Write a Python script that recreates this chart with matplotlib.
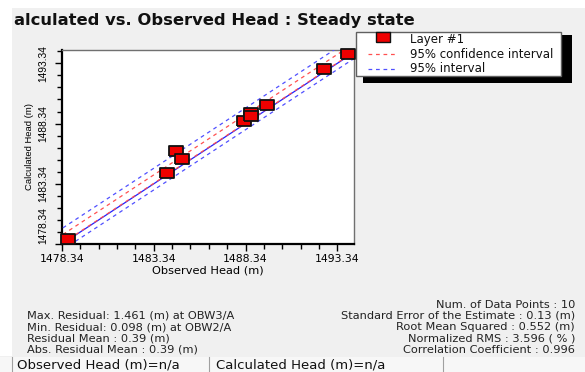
import matplotlib.pyplot as plt
import numpy as np
from matplotlib.lines import Line2D
from matplotlib.patches import Rectangle

plt.rcParams['font.family'] = ['DejaVu Sans']
NARROW = ['Liberation Sans']

# observed vs calculated heads (m)
observed = [1478.69, 1484.08, 1484.55, 1484.90, 1488.27, 1488.62, 1488.64, 1489.50, 1492.63, 1493.93]
calculated = [1478.76, 1484.20, 1486.03, 1485.42, 1488.57, 1489.23, 1489.00, 1489.92, 1492.86, 1494.13]

tick_vals = [1478.34, 1483.34, 1488.34, 1493.34]
x_lim = (1478.34, 1494.25)
y_lim = (1478.34, 1494.45)

# regression offset and band half-widths (m)
reg_offset = 0.39
conf_half = 0.35
pred_half = 0.9

legend_labels = ["Layer #1", "95% confidence interval", "95% interval"]
stats_left = ["Max. Residual: 1.461 (m) at OBW3/A",
              "Min. Residual: 0.098 (m) at OBW2/A",
              "Residual Mean : 0.39 (m)",
              "Abs. Residual Mean : 0.39 (m)"]
stats_right = ["Num. of Data Points : 10",
               "Standard Error of the Estimate : 0.13 (m)",
               "Root Mean Squared : 0.552 (m)",
               "Normalized RMS : 3.596 ( % )",
               "Correlation Coefficient : 0.996"]

W, H = 585, 372
fig = plt.figure(figsize=(W / 100, H / 100), dpi=100, facecolor='#f0f0f0')


def fx(px):
    return px / W


def fy(py):
    return 1 - py / H


def frect(x0, y0, x1, y1, **kw):
    fig.patches.append(Rectangle((fx(x0), fy(y1)), fx(x1) - fx(x0), fy(y0) - fy(y1),
                                 transform=fig.transFigure, **kw))


def fline(xs, ys, **kw):
    fig.lines.append(Line2D([fx(v) for v in xs], [fy(v) for v in ys],
                            transform=fig.transFigure, **kw))


# window chrome
frect(0, 0, W, 8, facecolor='white', edgecolor='none')
frect(0, 8, 12, 356, facecolor='white', edgecolor='none')
frect(0, 357, W, H, facecolor='#f7f7f7', edgecolor='none')
for sx in [12, 209, 443]:
    fline([sx, sx], [357, H], color='#a0a0a0', lw=0.8)

ax = fig.add_axes([fx(62), fy(244), fx(354) - fx(62), fy(50) - fy(244)])
ax.set_facecolor('white')

line_x = np.array([x_lim[0] - 2, x_lim[1] + 2])
ax.plot(line_x, line_x, color='#2020ff', lw=0.9, zorder=2)
ax.plot(line_x, line_x + reg_offset - conf_half, color='#ff5050', lw=0.9,
        dashes=(3, 3), zorder=3)
ax.plot(line_x, line_x + reg_offset + conf_half, color='#ff5050', lw=0.9,
        dashes=(3, 3), zorder=3)
ax.plot(line_x, line_x + reg_offset + pred_half, color='#5050ff', lw=0.9,
        dashes=(3, 3), zorder=3)
ax.plot(line_x, line_x + reg_offset - pred_half, color='#5050ff', lw=0.9,
        dashes=(3, 3), zorder=3)

rect_marker = [(-1.45, -1), (1.45, -1), (1.45, 1), (-1.45, 1), (-1.45, -1)]
ax.plot(observed, calculated, linestyle='none', marker=rect_marker, markersize=9.6,
        markerfacecolor='#ee0000', markeredgecolor='#111111', markeredgewidth=1.3,
        zorder=5, clip_on=False)

ax.set_xlim(*x_lim)
ax.set_ylim(*y_lim)
ax.set_xticks(tick_vals)
ax.set_yticks(tick_vals)
ax.set_xticklabels([f"{v:.2f}" for v in tick_vals], fontsize=7.8)
ax.set_yticklabels([f"{v:.2f}" for v in tick_vals], fontsize=7.4, rotation=90, va='center',
                   family=NARROW)
ax.get_yticklabels()[0].set_va('bottom')
ax.set_xticks(np.arange(1479.34, 1494.3, 1.0), minor=True)
ax.set_yticks(np.arange(1479.34, 1494.4, 1.0), minor=True)
ax.tick_params(which='major', length=5, width=1, direction='out')
ax.tick_params(which='minor', length=3.5, width=1, direction='out')
ax.tick_params(axis='x', which='major', pad=2)
ax.tick_params(axis='y', which='major', pad=5)
ax.set_xlabel("Observed Head (m)", fontsize=8.2, labelpad=1)
ax.set_ylabel("Calculated Head (m)", fontsize=6.8, labelpad=3, family=NARROW)
for side in ['left', 'bottom']:
    ax.spines[side].set_linewidth(1.6)
    ax.spines[side].set_color('black')
for side in ['top', 'right']:
    ax.spines[side].set_linewidth(1.0)
    ax.spines[side].set_color('#707070')

fig.text(fx(14), fy(20), "alculated vs. Observed Head : Steady state", fontsize=11.8,
         fontweight='bold', color='#111111', ha='left', va='center')

# legend box with hard black shadow
frect(363, 35, 572, 83, facecolor='black', edgecolor='none', zorder=1)
frect(356, 32, 561, 76, facecolor='white', edgecolor='#606060', lw=1.0, zorder=2)
fig.lines.append(Line2D([fx(383)], [fy(36.8)], transform=fig.transFigure, linestyle='none',
                        marker=rect_marker, markersize=10, markerfacecolor='#ee0000',
                        markeredgecolor='#111111', markeredgewidth=1.0, zorder=3))
fline([368, 395], [54, 54], color='#ff5050', lw=0.9, dashes=(3, 3), zorder=3)
fline([368, 395], [68.5, 68.5], color='#5050ff', lw=0.9, dashes=(3, 3), zorder=3)
for i, (lab, yy) in enumerate(zip(legend_labels, [39, 54, 69])):
    fig.text(fx(410), fy(yy), lab, fontsize=8.5, ha='left', va='center', color='#111111',
             zorder=4)

for i, s in enumerate(stats_left):
    fig.text(fx(27), fy(316 + i * 11.3), s, fontsize=8.2, ha='left', va='center',
             color='#222222')
for i, s in enumerate(stats_right):
    fig.text(fx(575), fy(304.5 + i * 11.3), s, fontsize=8.2, ha='right', va='center',
             color='#222222')

fig.text(fx(17), fy(365), "Observed Head (m)=n/a", fontsize=9.5, ha='left', va='center',
         color='#111111')
fig.text(fx(216), fy(365), "Calculated Head (m)=n/a", fontsize=9.5, ha='left', va='center',
         color='#111111')

fig.savefig('out.png', dpi=100, facecolor=fig.get_facecolor())
